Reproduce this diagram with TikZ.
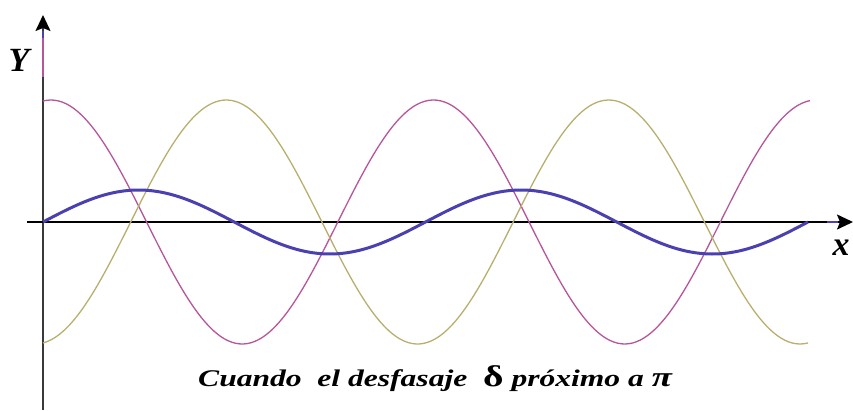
\documentclass[tikz,border=0pt]{standalone}
\usepackage{fontspec}
\setmainfont{Liberation Serif}
\newfontfamily\captionfont[FakeStretch=1.32]{Liberation Serif}
\usetikzlibrary{arrows.meta}
\definecolor{pinkwave}{HTML}{B6569A}
\definecolor{olivewave}{HTML}{B8AF6E}
\definecolor{bluewave}{HTML}{4A40B0}
\definecolor{axisgray}{HTML}{3A3A3A}
\tikzset{
  every picture/.style={
    line join=round,
    >={Stealth[length=16bp,width=15bp,inset=3bp]},
  },
  axisline/.style={line width=1.6bp},
  wave/.style={line width=1.3bp, smooth, samples=200},
  axislabel/.style={font=\fontsize{34}{34}\selectfont\bfseries\itshape},
}
\begin{document}
\begin{tikzpicture}[x=1bp, y=1bp]
    \useasboundingbox (-43,-188) rectangle (810,222);

    % Axes
    \coordinate (ybot) at (0,-188);
    \coordinate (ytop) at (0,207);
    \coordinate (xleft) at (-16,0);
    \coordinate (xright) at (810,0);
    \draw[axisline, axisgray, ->, >={Stealth[length=16bp,width=15bp,inset=3bp,black]}] (ybot) -- (ytop);
    \draw[axisline, pinkwave] (0,145) -- (0,184);
    \draw[axisline, bluewave] (0,184) -- (0,191);
    \draw[axisline, ->] (xleft) -- (xright);
    \draw[axisline, bluewave] (784,0) -- (795,0);

    % Axis labels
    \node[axislabel] (ylabel) at (-24,162) {Y};
    \node[axislabel] (xlabel) at (798,-26) {x};

    % Two waves, phase offset 180 - 15 deg; their sum is the blue one
    \draw[wave, pinkwave, domain=0:767] plot (\x, {122*cos(\x*0.941176-7.5)});
    \draw[wave, olivewave, domain=0:765] plot (\x, {-122*cos(\x*0.941176+7.5)});
    \draw[wave, bluewave, line width=3bp, domain=0:765] plot (\x, {32*sin(\x*0.941176)});

    % Caption
    \node[anchor=base west, inner sep=0pt, font=\captionfont\fontsize{24}{24}\selectfont\bfseries\itshape] (caption) at (155,-164)
        {Cuando\ \ el desfasaje\ \ {\fontsize{30}{30}\selectfont\upshape δ} próximo a {\fontsize{28}{28}\selectfont π}};
\end{tikzpicture}
\end{document}
